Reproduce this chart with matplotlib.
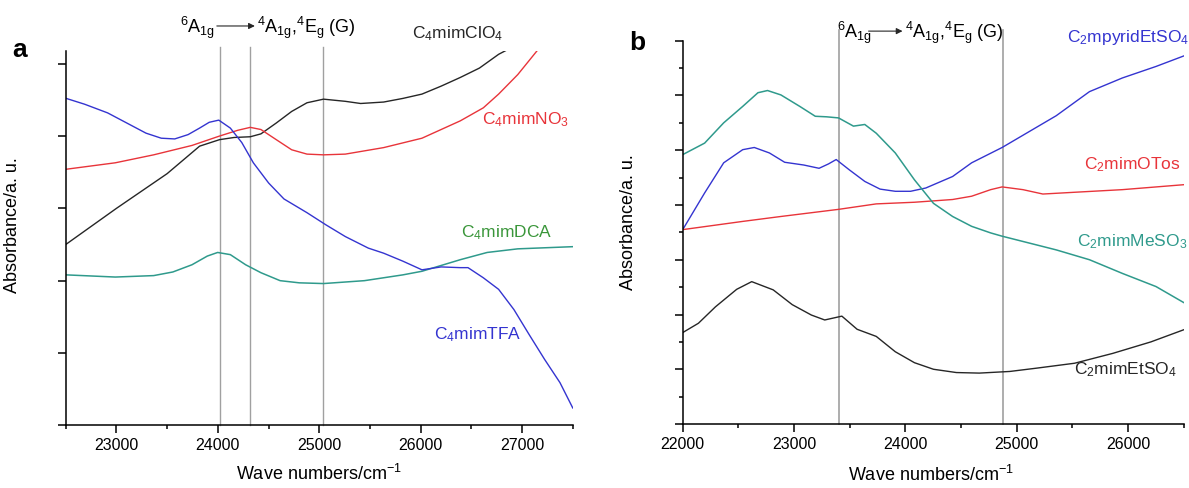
import matplotlib
matplotlib.use('Agg')
import matplotlib.pyplot as plt

plt.rcParams['font.family'] = ['Liberation Sans', 'DejaVu Sans']
plt.rcParams['mathtext.fontset'] = 'custom'
plt.rcParams['mathtext.rm'] = 'Liberation Sans'
plt.rcParams['mathtext.it'] = 'Liberation Sans:italic'
plt.rcParams['mathtext.bf'] = 'Liberation Sans:bold'

# Panel a: C4mim salts (wave number in cm-1, absorbance in a.u.)
wn_clo4 = [22500, 23000, 23500, 23820, 24017, 24160, 24320, 24425, 24576, 24728,
           24879, 25042, 25257, 25408, 25635, 25824, 26013, 26202, 26391, 26580,
           26769, 26864]
abs_clo4 = [2.50, 3.00, 3.48, 3.86, 3.95, 3.98, 3.99, 4.03, 4.18, 4.34,
            4.46, 4.51, 4.48, 4.45, 4.47, 4.52, 4.58, 4.69, 4.81, 4.94,
            5.13, 5.20]

wn_no3 = [22500, 22989, 23367, 23745, 24017, 24198, 24320, 24425, 24576, 24728,
          24879, 25042, 25257, 25635, 26013, 26391, 26618, 26769, 26958, 27166]
abs_no3 = [3.54, 3.63, 3.74, 3.87, 4.00, 4.08, 4.12, 4.09, 3.95, 3.81,
           3.75, 3.74, 3.75, 3.84, 3.97, 4.21, 4.39, 4.58, 4.85, 5.21]

wn_dca = [22505, 22989, 23367, 23556, 23745, 23896, 23998, 24123, 24274, 24425,
          24614, 24803, 25042, 25446, 25824, 26013, 26202, 26391, 26656, 26958, 27500]
abs_dca = [2.08, 2.05, 2.07, 2.12, 2.22, 2.34, 2.39, 2.36, 2.22, 2.11,
           2.00, 1.97, 1.96, 2.00, 2.08, 2.13, 2.21, 2.29, 2.39, 2.44, 2.47]

wn_tfa = [22505, 22686, 22913, 23102, 23291, 23442, 23575, 23707, 23820, 23915,
          24009, 24123, 24236, 24350, 24501, 24652, 24879, 25068, 25257, 25484,
          25635, 25824, 26013, 26202, 26391, 26467, 26618, 26769, 26920, 27072,
          27223, 27374, 27500]
abs_tfa = [4.52, 4.44, 4.32, 4.18, 4.04, 3.97, 3.96, 4.02, 4.11, 4.19,
           4.22, 4.11, 3.91, 3.63, 3.35, 3.13, 2.94, 2.77, 2.61, 2.45,
           2.38, 2.27, 2.15, 2.19, 2.18, 2.18, 2.04, 1.88, 1.60, 1.25,
           0.91, 0.59, 0.24]

lines_a = [24020, 24320, 25040]

# Panel b: C2 salts
wn_mpyrid = [22000, 22197, 22368, 22539, 22643, 22779, 22916, 23087, 23225, 23310,
             23379, 23498, 23636, 23773, 23910, 24047, 24184, 24425, 24596, 24870,
             25356, 25655, 25951, 26253, 26500]
abs_mpyrid = [3.55, 4.22, 4.77, 5.01, 5.05, 4.95, 4.78, 4.73, 4.67, 4.75,
              4.83, 4.64, 4.43, 4.29, 4.25, 4.25, 4.31, 4.52, 4.77, 5.05,
              5.63, 6.07, 6.32, 6.53, 6.72]

wn_otos = [22000, 22539, 22882, 23400, 23739, 24082, 24425, 24596, 24767, 24870,
           25057, 25236, 25502, 25951, 26500]
abs_otos = [3.55, 3.70, 3.79, 3.92, 4.02, 4.05, 4.10, 4.16, 4.28, 4.33,
            4.28, 4.20, 4.23, 4.28, 4.37]

wn_meso3 = [22000, 22197, 22368, 22539, 22676, 22762, 22882, 23052, 23191, 23293,
            23400, 23534, 23636, 23739, 23910, 24082, 24253, 24425, 24596, 24767,
            24870, 25356, 25655, 25951, 26253, 26500]
abs_meso3 = [4.92, 5.13, 5.50, 5.80, 6.05, 6.09, 6.01, 5.80, 5.62, 5.61,
             5.59, 5.44, 5.47, 5.31, 4.95, 4.46, 4.03, 3.79, 3.61, 3.49,
             3.43, 3.18, 3.00, 2.75, 2.51, 2.22]

wn_etso4 = [22000, 22141, 22294, 22485, 22620, 22813, 22984, 23156, 23276, 23430,
            23567, 23739, 23910, 24082, 24253, 24459, 24665, 24939, 25179, 25521,
            25864, 26207, 26500]
abs_etso4 = [1.67, 1.84, 2.14, 2.46, 2.60, 2.45, 2.18, 1.99, 1.90, 1.97,
             1.73, 1.60, 1.32, 1.12, 1.00, 0.94, 0.93, 0.96, 1.02, 1.11,
             1.29, 1.50, 1.72]

lines_b = [23400, 24880]

BLACK = '#262626'
RED = '#e8343a'
BLUE = '#3434d0'
TEAL = '#2f9a8c'
GREEN = '#3a963a'
GREY = '#a0a0a0'

LOWER = r'$^6$A$_{\mathrm{1g}}$'
UPPER = r'$^4$A$_{\mathrm{1g}}$,$^4$E$_{\mathrm{g}}$ (G)'

fig = plt.figure(figsize=(11.89, 4.88), dpi=100)
ax1 = fig.add_axes([0.0553, 0.1285, 0.4264, 0.7676])
ax2 = fig.add_axes([0.5742, 0.1311, 0.4212, 0.7855])


def style_axes(ax):
    for side in ('top', 'right'):
        ax.spines[side].set_visible(False)
    for side in ('left', 'bottom'):
        ax.spines[side].set_linewidth(1.1)
    ax.tick_params(direction='out', length=6, width=1.1, labelsize=11.5)
    ax.tick_params(which='minor', direction='out', length=3, width=1.1)
    ax.set_yticklabels([])


# --- panel a ---
for x in lines_a:
    ax1.axvline(x, ymin=0, ymax=1.011, color=GREY, lw=1, clip_on=False, zorder=1)
ax1.plot(wn_clo4, abs_clo4, color=BLACK, lw=1)
ax1.plot(wn_no3, abs_no3, color=RED, lw=1)
ax1.plot(wn_dca, abs_dca, color=TEAL, lw=1.1)
ax1.plot(wn_tfa, abs_tfa, color=BLUE, lw=1)
ax1.set_xlim(22500, 27500)
ax1.set_ylim(0, 5.18)
ax1.set_xticks([23000, 24000, 25000, 26000, 27000])
ax1.set_xticks([22500, 23500, 24500, 25500, 26500, 27500], minor=True)
ax1.set_yticks([0, 1, 2, 3, 4, 5])
style_axes(ax1)

ax1.text(25915, 5.41, r'C$_4$mimClO$_4$', color=BLACK, fontsize=12.5, va='center', clip_on=False)
ax1.text(26604, 4.23, r'C$_4$mimNO$_3$', color=RED, fontsize=12.5, va='center')
ax1.text(26398, 2.66, r'C$_4$mimDCA', color=GREEN, fontsize=12.5, va='center')
ax1.text(26132, 1.26, r'C$_4$mimTFA', color=BLUE, fontsize=12.5, va='center')

ax1.text(23975, 1.06, LOWER, transform=ax1.get_xaxis_transform(),
         ha='right', va='center', fontsize=13, clip_on=False)
ax1.annotate('', xy=(24365, 1.066), xytext=(23990, 1.066),
             xycoords=ax1.get_xaxis_transform(),
             arrowprops=dict(arrowstyle='-|>', color=BLACK, lw=0.8, mutation_scale=9,
                             shrinkA=0, shrinkB=0))
ax1.text(24385, 1.06, UPPER, transform=ax1.get_xaxis_transform(),
         ha='left', va='center', fontsize=13, clip_on=False)

ax1.set_xlabel(r'Wave numbers/cm$^{-1}$', fontsize=13)
ax1.set_ylabel('Absorbance/a. u.', fontsize=13)
ax1.xaxis.set_label_coords(0.5, -0.103)
ax1.yaxis.set_label_coords(-0.088, 0.535)
fig.text(20 / 1189, 1 - 50 / 488, 'a', fontsize=19, fontweight='bold', ha='center', va='center')

# --- panel b ---
for x in lines_b:
    ax2.axvline(x, ymin=0, ymax=1.028, color=GREY, lw=1.2, clip_on=False, zorder=1)
ax2.plot(wn_mpyrid, abs_mpyrid, color=BLUE, lw=1)
ax2.plot(wn_otos, abs_otos, color=RED, lw=1)
ax2.plot(wn_meso3, abs_meso3, color=TEAL, lw=1.1)
ax2.plot(wn_etso4, abs_etso4, color=BLACK, lw=1)
ax2.set_xlim(22000, 26500)
ax2.set_ylim(0, 7)
ax2.set_xticks([22000, 23000, 24000, 25000, 26000])
ax2.set_xticks([22500, 23500, 24500, 25500, 26500], minor=True)
ax2.set_yticks(range(8))
ax2.set_yticks([0.5 + i for i in range(7)], minor=True)
style_axes(ax2)

ax2.text(25457, 7.05, r'C$_2$mpyridEtSO$_4$', color=BLUE, fontsize=12.5, va='center', clip_on=False)
ax2.text(25610, 4.73, r'C$_2$mimOTos', color=RED, fontsize=12.5, va='center')
ax2.text(25547, 3.33, r'C$_2$mimMeSO$_3$', color=TEAL, fontsize=12.5, va='center', clip_on=False)
ax2.text(25520, 0.99, r'C$_2$mimEtSO$_4$', color=BLACK, fontsize=12.5, va='center')

ax2.text(23385, 1.02, LOWER, transform=ax2.get_xaxis_transform(),
         ha='left', va='center', fontsize=13, clip_on=False)
ax2.annotate('', xy=(23975, 1.025), xytext=(23670, 1.025),
             xycoords=ax2.get_xaxis_transform(),
             arrowprops=dict(arrowstyle='-|>', color=BLACK, lw=0.8, mutation_scale=9,
                             shrinkA=0, shrinkB=0))
ax2.text(23995, 1.02, UPPER, transform=ax2.get_xaxis_transform(),
         ha='left', va='center', fontsize=13, clip_on=False)

ax2.set_xlabel(r'Wave numbers/cm$^{-1}$', fontsize=13)
ax2.set_ylabel('Absorbance/a. u.', fontsize=13)
ax2.xaxis.set_label_coords(0.496, -0.106)
ax2.yaxis.set_label_coords(-0.091, 0.527)
fig.text(637 / 1189, 1 - 43 / 488, 'b', fontsize=19, fontweight='bold', ha='center', va='center')

fig.savefig('out.png', dpi=100)
